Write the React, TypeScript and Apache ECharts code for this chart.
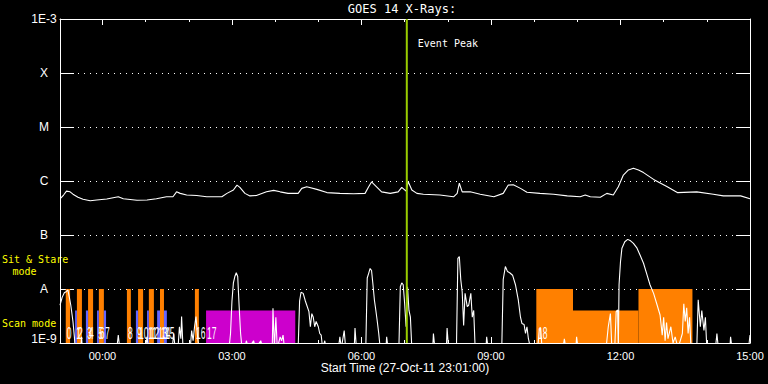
import React, { useEffect, useRef } from 'react';
import * as echarts from 'echarts';

// time axis in minutes from 28-Oct-11 00:00 (start 27-Oct-11 23:01)
const X_MIN = -59;
const X_MAX = 900;
const xTickValues = [0, 180, 360, 540, 720, 900];
const xTickLabels = ['00:00', '03:00', '06:00', '09:00', '12:00', '15:00'];
const xMinorTickValues = [0, 60, 120, 180, 240, 300, 360, 420, 480, 540, 600, 660, 720, 780, 840, 900];

const Y_MIN = 1e-9;
const Y_MAX = 1e-3;
const yTickLabels = ['1E-9', 'A', 'B', 'C', 'M', 'X', '1E-3'];

// GOES 1-8 A channel
const longChannel: [number, number][] = [
  [-58, 4.8e-7], [-54, 5.5e-7], [-50, 6.5e-7], [-45, 6.3e-7], [-41, 5.7e-7], [-34, 5.0e-7],
  [-27, 4.6e-7], [-17, 4.3e-7], [-8, 4.45e-7], [6, 4.65e-7], [22, 5.1e-7], [29, 4.7e-7],
  [48, 4.4e-7], [62, 4.45e-7], [75, 4.7e-7], [89, 5.1e-7], [98, 5.1e-7], [103, 6.3e-7],
  [108, 5.9e-7], [117, 5.5e-7], [131, 5.4e-7], [145, 5.1e-7], [166, 5.1e-7], [173, 5.9e-7],
  [182, 6.8e-7], [187, 8.4e-7], [191, 7.6e-7], [198, 5.9e-7], [205, 5.3e-7], [214, 5.4e-7],
  [228, 6.3e-7], [238, 6.7e-7], [247, 6.3e-7], [258, 5.9e-7], [272, 5.9e-7], [277, 7.3e-7],
  [284, 7.8e-7], [298, 7.0e-7], [312, 6.1e-7], [330, 5.9e-7], [349, 5.8e-7], [365, 5.9e-7],
  [370, 7.8e-7], [374, 9.6e-7], [381, 7.8e-7], [388, 6.3e-7], [400, 5.9e-7], [411, 6.3e-7],
  [416, 7.6e-7], [422, 6.5e-7], [425, 9.7e-7], [430, 6.8e-7], [437, 5.9e-7], [446, 5.7e-7],
  [469, 5.5e-7], [488, 5.1e-7], [493, 5.9e-7], [496, 9.1e-7], [500, 6.3e-7], [511, 6.3e-7],
  [525, 5.7e-7], [544, 5.1e-7], [557, 5.9e-7], [564, 8.4e-7], [571, 8.5e-7], [581, 7.3e-7],
  [590, 6.2e-7], [608, 5.9e-7], [627, 5.7e-7], [646, 5.3e-7], [664, 5.1e-7], [671, 5.5e-7],
  [678, 5.1e-7], [692, 5.0e-7], [701, 5.9e-7], [710, 5.5e-7], [717, 7.8e-7], [724, 1.29e-6],
  [731, 1.6e-6], [738, 1.72e-6], [745, 1.6e-6], [752, 1.43e-6], [766, 1.07e-6], [785, 7.8e-7],
  [799, 6.1e-7], [826, 6.3e-7], [849, 5.7e-7], [863, 5.3e-7], [887, 5.3e-7], [900, 4.7e-7],
];

// GOES 0.5-4 A channel
const shortChannel: [number, number][] = [
  [-59, 5e-9], [-56, 7e-9], [-53, 8.5e-9], [-50, 9e-9], [-48, 9.6e-9], [-46, 7e-9], [-44, 5e-9],
  [-43, 4e-9], [-41, 2.5e-9], [-39, 1.3e-9], [-38, 8e-10],
  [-30, 8e-10], [-29, 1.3e-9], [-28, 8e-10],
  [20, 8e-10], [22, 1.4e-9], [24, 8e-10],
  [60, 8e-10], [62, 1.3e-9], [64, 8e-10],
  [97, 8e-10], [99, 1.5e-9], [101, 8e-10],
  [105, 8e-10], [107, 2e-9], [109, 1.2e-9], [110, 3.1e-9], [112, 8e-10],
  [122, 8e-10], [124, 1.7e-9], [126, 1.1e-9], [128, 2e-9], [130, 3.1e-9], [132, 1.4e-9], [134, 8e-10],
  [176, 8e-10], [178, 1.5e-9], [180, 6e-9], [182, 1.3e-8], [184, 1.7e-8], [186, 2.0e-8], [188, 1.7e-8],
  [190, 4.7e-9], [192, 1.5e-9], [194, 8e-10],
  [198, 8e-10], [200, 1.1e-9], [203, 8e-10], [210, 1.1e-9], [213, 8e-10], [220, 1.1e-9], [223, 8e-10],
  [236, 8e-10], [237, 4.4e-9], [239, 8e-10], [241, 3e-9], [243, 8e-10], [247, 1.3e-9], [249, 1.1e-9],
  [251, 1.4e-9], [253, 8e-10],
  [272, 8e-10], [274, 6e-9], [276, 8.7e-9], [279, 8.3e-9], [282, 6e-9], [284, 5e-9], [287, 3.8e-9],
  [289, 2e-9], [291, 3.5e-9], [293, 3e-9], [295, 2e-9], [297, 2.5e-9], [300, 2e-9], [302, 1.5e-9],
  [304, 1.4e-9], [306, 8e-10], [309, 1.1e-9], [311, 8e-10],
  [328, 8e-10], [330, 1.3e-9], [332, 8e-10], [336, 1.7e-9], [338, 8e-10], [350, 8e-10], [351, 1.9e-9], [353, 8e-10],
  [366, 8e-10], [368, 1.6e-8], [370, 1.95e-8], [372, 2.4e-8], [374, 2.2e-8], [376, 1.2e-8], [378, 6.2e-9],
  [380, 4e-9], [382, 2.5e-9], [384, 1.5e-9], [386, 8e-10],
  [394, 8e-10], [395, 1.3e-9], [397, 8e-10],
  [412, 8e-10], [414, 1.1e-8], [416, 1.3e-8], [418, 1.2e-8], [420, 5.4e-9], [422, 2e-9], [424, 1.1e-8],
  [426, 4e-9], [428, 3e-9], [430, 8e-10],
  [459, 8e-10], [460, 1.5e-9], [462, 8e-10], [478, 8e-10], [479, 1.9e-9], [481, 8e-10],
  [492, 8e-10], [494, 3.7e-8], [496, 4e-8], [498, 1.5e-8], [500, 8.8e-9], [502, 2.1e-9], [504, 8.3e-9],
  [507, 4.7e-9], [509, 5e-9], [512, 8.3e-9], [514, 3e-9], [516, 4e-9], [518, 8e-10],
  [533, 8e-10], [534, 1.3e-9], [536, 8e-10],
  [555, 8e-10], [557, 1.5e-8], [560, 2.6e-8], [563, 2.1e-8], [566, 2.0e-8], [570, 1.8e-8], [574, 1.2e-8],
  [578, 6.2e-9], [581, 3e-9], [583, 2.3e-9], [586, 2.2e-9], [588, 1.5e-9], [590, 2e-9], [592, 1.2e-9], [595, 8e-10],
  [605, 8e-10], [607, 1.7e-9], [609, 1.9e-9], [611, 8e-10], [640, 8e-10], [642, 1.2e-9], [644, 8e-10],
  [658, 8e-10], [659, 1.3e-9], [661, 8e-10],
  [700, 8e-10], [703, 2e-9], [706, 3.5e-9], [708, 8e-10], [712, 8e-10], [714, 3.8e-9], [716, 4.1e-9],
  [717, 8e-10], [718, 1.2e-8], [720, 3.2e-8], [722, 5.7e-8], [726, 7.5e-8], [730, 8.3e-8], [734, 7.8e-8],
  [738, 7.0e-8], [743, 5.7e-8], [747, 4.3e-8], [752, 3.0e-8], [757, 1.8e-8], [761, 1.2e-8], [766, 8.3e-9],
  [771, 5e-9], [775, 3.3e-9], [778, 1.4e-9], [780, 3e-9], [782, 1.1e-9], [784, 2.4e-9], [786, 1.2e-9],
  [790, 2e-9], [793, 1e-9], [796, 1.3e-9], [800, 8e-10],
  [806, 1.5e-9], [808, 5.3e-9], [810, 2.5e-9], [812, 4.5e-9], [814, 1.5e-9], [816, 3e-9], [818, 8e-10],
  [826, 8e-10], [828, 6.3e-9], [831, 2e-9], [833, 4e-9], [836, 1.7e-9], [838, 3e-9], [840, 8e-10],
  [852, 8e-10], [854, 1.5e-9], [856, 8e-10], [872, 8e-10], [873, 1.3e-9], [875, 8e-10], [898, 8e-10], [900, 1.4e-9],
];

// observing blocks [start, end] in minutes
const STARE_TOP = 1e-8;
const SCAN_TOP = 4e-9;
const stareBlocks: [number, number][] = [
  [-51, -45], [-35.5, -28.5], [-20, -13], [-5, 2], [34, 39.5], [49.5, 56.5], [64.5, 71.5],
  [80, 85.5], [128.5, 134], [603, 654], [745, 820],
];
const scanOrangeBlocks: [number, number][] = [[654, 745]];
const scanBlueBlocks: [number, number][] = [
  [-38, -35.5], [-23, -20], [-7.5, -5], [2, 5], [46.5, 49.5], [62, 64.5], [76, 80], [85.5, 89.5],
];
const scanMagentaBlocks: [number, number][] = [[144, 268]];

const eventStarts = [-51, -38, -35.5, -23, -20, -7.5, -5, 2, 34, 46.5, 49.5, 62, 64.5, 76, 80, 85.5, 128.5, 144, 604];
const eventLabels = ['0', '1', '2', '3', '4', '5', '6', '7', '8', '9', '10', '11', '12', '13', '14', '15', '16', '17', '18'];

const peakTime = 423;

const FONT = "'Liberation Sans', Arial, sans-serif";
const MONO = "'DejaVu Sans Mono', monospace";

function blockSeries(blocks: [number, number][], top: number, color: string) {
  return {
    type: 'custom',
    xAxisIndex: 0,
    yAxisIndex: 0,
    silent: true,
    z: 1,
    clip: true,
    data: blocks.map(([s, e]) => [s, e, top]),
    encode: { x: [0, 1], y: 2 },
    renderItem: (params: any, api: any) => {
      const a = api.coord([api.value(0), api.value(2)]);
      const b = api.coord([api.value(1), Y_MIN]);
      return {
        type: 'rect',
        shape: { x: a[0], y: a[1], width: b[0] - a[0], height: b[1] - a[1] },
        style: { fill: color },
      };
    },
  };
}

function xAxisDef(position: string, ticks: number[], len: number, showLine: boolean, showLabel: boolean) {
  return {
    type: 'value',
    position,
    min: X_MIN,
    max: X_MAX,
    axisLine: { show: showLine, onZero: false, lineStyle: { color: '#ffffff', width: 1 } },
    axisTick: { show: true, inside: true, length: len, customValues: ticks, lineStyle: { color: '#ffffff', width: 1 } },
    axisLabel: {
      show: showLabel,
      customValues: xTickValues,
      formatter: (v: number) => {
        const i = xTickValues.indexOf(Math.round(v));
        return i >= 0 ? xTickLabels[i] : '';
      },
      color: '#ffffff',
      fontFamily: FONT,
      fontSize: 11,
      margin: 7,
    },
    splitLine: { show: false },
  };
}

function yAxisDef(position: string, showLabel: boolean, showSplit: boolean) {
  return {
    type: 'log',
    logBase: 10,
    position,
    min: Y_MIN,
    max: Y_MAX,
    axisLine: { show: true, onZero: false, lineStyle: { color: '#ffffff', width: 1 } },
    axisTick: { show: true, inside: true, length: 14, lineStyle: { color: '#ffffff', width: 1 } },
    minorTick: { show: false },
    axisLabel: {
      show: showLabel,
      formatter: (v: number) => {
        const i = Math.round(Math.log10(v)) + 9;
        return yTickLabels[i] ?? '';
      },
      color: '#ffffff',
      fontFamily: FONT,
      fontSize: 12,
      lineHeight: 8,
      align: 'center',
      margin: 16,
      verticalAlignMinLabel: 'bottom',
      verticalAlignMaxLabel: 'top',
    },
    splitLine: { show: showSplit, lineStyle: { color: '#ffffff', width: 1, type: [1, 5] } },
  };
}

function txt(text: string, x: number, y: number, color: string, font: string, align = 'left') {
  return {
    type: 'text',
    x,
    y,
    silent: true,
    style: { text, fill: color, font, align, textAlign: align, verticalAlign: 'middle', textVerticalAlign: 'middle' },
  };
}

export default function App() {
  const ref = useRef<HTMLDivElement>(null);
  useEffect(() => {
    if (!ref.current) return;
    const chart = echarts.init(ref.current, null, { renderer: 'svg' });
    const option: any = {
      animation: false,
      backgroundColor: '#000000',
      grid: { left: 60, right: 18, top: 19, bottom: 41, containLabel: false, outerBoundsMode: 'none' },
      xAxis: [
        xAxisDef('bottom', xTickValues, 6, true, true),
        xAxisDef('bottom', xMinorTickValues, 3, false, false),
        xAxisDef('top', xTickValues, 6, true, false),
        xAxisDef('top', xMinorTickValues, 3, false, false),
      ],
      yAxis: [yAxisDef('left', true, true), yAxisDef('right', false, false)],
      graphic: [
        txt('GOES 14 X-Rays:', 402, 9, '#ffffff', `12px ${MONO}`, 'center'),
        txt('Start Time (27-Oct-11 23:01:00)', 405, 368, '#ffffff', `12px ${FONT}`, 'center'),
        txt('Sit & Stare', 2, 259, '#ffff00', `10px ${MONO}`),
        txt('mode', 24.5, 271.5, '#ffff00', `10px ${MONO}`, 'center'),
        txt('Scan mode', 2, 323, '#ffff00', `10px ${MONO}`),
      ],
      series: [
        blockSeries(stareBlocks, STARE_TOP, '#ff8000'),
        blockSeries(scanOrangeBlocks, SCAN_TOP, '#ff8000'),
        blockSeries(scanBlueBlocks, SCAN_TOP, '#6666ff'),
        blockSeries(scanMagentaBlocks, SCAN_TOP, '#cc00cc'),
        {
          type: 'line',
          data: longChannel,
          symbol: 'none',
          clip: true,
          z: 3,
          silent: true,
          lineStyle: { color: '#ffffff', width: 1.1 },
        },
        {
          type: 'line',
          data: shortChannel,
          symbol: 'none',
          clip: true,
          z: 3,
          silent: true,
          lineStyle: { color: '#ffffff', width: 1.1 },
        },
        {
          type: 'custom',
          silent: true,
          z: 5,
          clip: false,
          data: eventStarts.map((t) => [t, Y_MIN]),
          encode: { x: 0, y: 1 },
          renderItem: (params: any, api: any) => {
            const p = api.coord([api.value(0), Y_MIN]);
            return {
              type: 'text',
              x: p[0] + 1,
              y: p[1] - 10,
              scaleX: 0.5,
              style: {
                text: eventLabels[params.dataIndex],
                fill: '#ffffff',
                font: `17px ${FONT}`,
                align: 'left',
                textAlign: 'left',
                verticalAlign: 'middle',
                textVerticalAlign: 'middle',
              },
            };
          },
        },
        {
          type: 'custom',
          silent: true,
          z: 6,
          clip: false,
          data: [[peakTime, Y_MAX]],
          encode: { x: 0, y: 1 },
          renderItem: (params: any, api: any) => {
            const top = api.coord([api.value(0), Y_MAX]);
            const bot = api.coord([api.value(0), Y_MIN]);
            return {
              type: 'group',
              children: [
                {
                  type: 'line',
                  shape: { x1: top[0], y1: top[1], x2: bot[0], y2: bot[1] },
                  style: { stroke: '#99cc00', lineWidth: 2 },
                },
                {
                  type: 'text',
                  x: top[0] + 11,
                  y: top[1] + 24,
                  style: {
                    text: 'Event Peak',
                    fill: '#ffffff',
                    font: `10px ${MONO}`,
                    align: 'left',
                    textAlign: 'left',
                    verticalAlign: 'middle',
                    textVerticalAlign: 'middle',
                  },
                },
              ],
            };
          },
        },
      ],
    };
    chart.setOption(option);
    return () => chart.dispose();
  }, []);
  return (
    <div
      ref={ref}
      style={{ position: 'absolute', left: 0, top: 0, width: 768, height: 384, background: '#000' }}
    />
  );
}
